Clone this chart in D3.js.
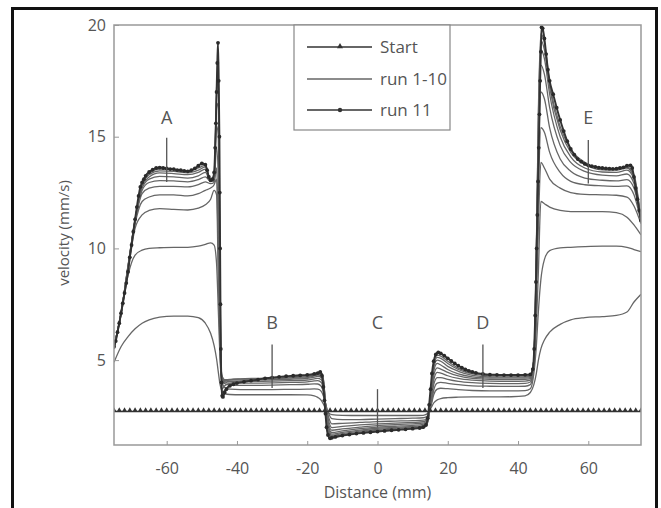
<!DOCTYPE html>
<html><head><meta charset="utf-8">
<script src="https://cdn.jsdelivr.net/npm/d3@7"></script>
<style>body{margin:0;background:#fff;} svg{display:block;font-family:'Open Sans',sans-serif;}</style>
</head><body><svg id="c" width="661" height="508"></svg>
<script>
// ---------- DATA ----------
const distance = [-75,-73,-71,-69,-67,-65,-62,-58,-54,-51,-49,-47.5,-46.5,-45.8,-45.3,-44.8,-44.3,-43.5,-42,-39,-35,-30,-25,-20,-18,-17,-16,-15.3,-14.7,-14,-13,-10,-5,0,5,10,13,14,14.7,15.3,16,17,18,20,23,27,32,38,42,43.5,44.5,45.2,45.8,46.5,47.5,49,52,55,59,64,68,71,73,75];
const run1 = [4.9,5.6,6.05,6.4,6.65,6.8,6.92,6.97,6.97,6.9,6.65,6.2,5.65,5.05,4.45,3.9,3.62,3.5,3.46,3.45,3.45,3.45,3.45,3.44,3.4,3.33,3.2,3.0,2.8,2.65,2.56,2.53,2.52,2.52,2.52,2.52,2.53,2.58,2.7,2.88,3.08,3.22,3.28,3.32,3.34,3.35,3.35,3.36,3.4,3.55,3.9,4.4,5.0,5.5,5.9,6.25,6.6,6.8,6.9,6.95,7.0,7.15,7.6,7.95];
const run2 = [5.5,7.0,8.8,9.7,9.92,10.0,10.03,10.05,10.05,10.1,10.18,10.25,10.15,9.3,7.2,5.0,4.05,3.78,3.7,3.68,3.68,3.68,3.69,3.7,3.71,3.7,3.6,3.35,3.0,2.65,2.38,2.34,2.34,2.36,2.38,2.4,2.42,2.48,2.66,3.0,3.45,3.7,3.74,3.72,3.68,3.64,3.62,3.62,3.63,3.72,4.4,5.6,7.2,8.6,9.5,9.9,10.02,10.05,10.08,10.1,10.1,10.05,9.95,9.85];
const run3 = [5.55,7.05,9.0,10.9,11.5,11.7,11.78,11.75,11.72,11.8,11.95,12.2,12.6,12.4,8.5,5.3,4.2,3.95,3.88,3.87,3.87,3.88,3.9,3.92,3.94,3.93,3.82,3.5,3.0,2.5,2.15,2.17,2.21,2.25,2.27,2.29,2.31,2.38,2.6,3.05,3.65,3.97,4.0,3.96,3.9,3.85,3.83,3.82,3.83,3.9,4.6,6.5,9.0,12.1,12.0,11.85,11.7,11.65,11.65,11.65,11.6,11.4,11.05,10.6];
const run4 = [5.55,7.1,9.1,11.1,12.1,12.3,12.4,12.4,12.35,12.45,12.6,12.7,12.85,13.1,9.5,5.5,4.25,4.02,3.97,3.97,3.97,3.98,4.0,4.03,4.07,4.08,4.0,3.6,2.95,2.35,1.98,2.03,2.1,2.15,2.18,2.21,2.24,2.32,2.6,3.15,3.9,4.22,4.22,4.14,4.05,3.99,3.96,3.95,3.96,4.02,4.8,7.5,11.0,13.85,13.6,13.1,12.7,12.5,12.42,12.4,12.38,12.3,11.9,11.1];
const run5 = [5.6,7.1,9.1,11.2,12.45,12.7,12.78,12.78,12.75,12.85,12.98,12.9,12.95,13.6,11.0,6.0,4.3,4.08,4.04,4.04,4.05,4.06,4.08,4.11,4.16,4.18,4.12,3.7,2.9,2.2,1.86,1.92,2.0,2.07,2.11,2.15,2.18,2.27,2.6,3.25,4.1,4.45,4.42,4.3,4.18,4.1,4.06,4.05,4.06,4.1,4.9,8.2,12.5,15.4,15.2,14.3,13.4,13.0,12.85,12.8,12.78,12.8,12.4,11.2];
const run6 = [5.6,7.1,9.15,11.25,12.6,12.95,13.03,13.02,12.98,13.08,13.2,13.0,13.0,14.5,13.0,6.5,4.3,4.12,4.1,4.1,4.11,4.12,4.14,4.18,4.24,4.27,4.22,3.8,2.85,2.05,1.76,1.83,1.93,2.0,2.04,2.08,2.12,2.22,2.6,3.35,4.3,4.65,4.6,4.45,4.29,4.18,4.14,4.13,4.14,4.17,5.0,8.8,13.8,17.0,16.7,15.4,14.0,13.45,13.15,13.05,13.02,13.08,12.7,11.25];
const run7 = [5.6,7.1,9.2,11.25,12.7,13.1,13.22,13.2,13.15,13.25,13.4,13.0,13.05,15.5,15.0,7.0,4.1,4.12,4.14,4.15,4.16,4.17,4.19,4.22,4.29,4.33,4.3,3.9,2.8,1.95,1.69,1.76,1.87,1.95,1.99,2.03,2.07,2.18,2.6,3.45,4.5,4.85,4.78,4.58,4.38,4.25,4.2,4.19,4.2,4.22,5.0,9.2,14.8,18.2,17.8,16.3,14.6,13.85,13.45,13.28,13.25,13.33,12.9,11.25];
const run8 = [5.6,7.1,9.2,11.27,12.8,13.2,13.38,13.35,13.3,13.4,13.55,13.0,13.1,16.3,16.5,7.5,3.9,4.05,4.12,4.16,4.18,4.19,4.22,4.26,4.33,4.37,4.35,3.95,2.75,1.85,1.63,1.71,1.82,1.9,1.95,1.99,2.03,2.14,2.6,3.55,4.65,5.0,4.95,4.72,4.5,4.32,4.25,4.24,4.25,4.27,5.0,9.5,15.5,18.9,18.5,16.9,15.0,14.1,13.6,13.42,13.4,13.5,13.1,11.25];
const run9 = [5.6,7.1,9.2,11.28,12.85,13.3,13.47,13.45,13.38,13.5,13.65,13.05,13.2,16.8,17.8,8.0,3.7,3.85,3.95,4.05,4.15,4.2,4.25,4.3,4.36,4.4,4.4,4.0,2.7,1.78,1.58,1.66,1.78,1.86,1.91,1.96,2.0,2.1,2.65,3.65,4.75,5.12,5.08,4.85,4.58,4.38,4.3,4.28,4.29,4.31,5.0,9.7,15.9,19.3,18.9,17.2,15.3,14.3,13.75,13.52,13.5,13.6,13.2,11.25];
const run10 = [5.6,7.1,9.25,11.3,12.9,13.35,13.55,13.52,13.45,13.6,13.72,13.05,13.3,17.2,18.6,8.5,3.5,3.65,3.88,4.02,4.14,4.21,4.27,4.32,4.4,4.43,4.44,4.05,2.65,1.72,1.54,1.63,1.75,1.83,1.88,1.93,1.98,2.07,2.7,3.7,4.85,5.22,5.18,4.95,4.64,4.42,4.33,4.31,4.32,4.34,5.0,9.8,16.2,19.6,19.2,17.4,15.45,14.45,13.85,13.58,13.55,13.65,13.3,11.25];
const runs1to10 = [run1,run2,run3,run4,run5,run6,run7,run8,run9,run10];

const run11Dist = [-75,-74.5,-74,-73.5,-73,-72.5,-72,-71.5,-71,-70.5,-70,-69.5,-69,-68.5,-68,-67.5,-67,-66.5,-66,-65,-64,-63,-62,-61,-60,-59,-58,-57,-56,-55,-54,-53,-52,-51,-50,-49,-48.5,-48,-47.5,-47,-46.5,-46.2,-46,-45.8,-45.6,-45.4,-45.2,-45,-44.9,-44.8,-44.7,-44.6,-44.4,-44.2,-44,-43.5,-43,-42,-41,-40,-38,-36,-34,-32,-30,-28,-26,-24,-22,-20,-18,-17,-16.3,-15.8,-15.4,-15.1,-14.8,-14.5,-14.1,-13.5,-13,-12,-10,-8,-6,-4,-2,0,2,4,6,8,10,12,13,13.8,14.3,14.7,15.1,15.5,16,16.6,17.3,18,19,20,21,22,23,24,25,26,27,28,30,32,34,36,38,40,42,43.5,44.2,44.6,44.9,45.1,45.3,45.5,45.7,45.9,46.1,46.3,46.5,46.7,47,47.5,48,48.5,49,50,51,52,53,54,55,56,57,58,59,60,61,62,63,64,65,66,67,68,69,70,71,72,72.5,73,73.5,74,74.5,75];
const run11Vel = [5.6,5.85,6.25,6.65,7.1,7.55,8.0,8.45,8.95,9.6,10.15,10.75,11.3,11.85,12.35,12.75,12.95,13.1,13.25,13.42,13.52,13.6,13.62,13.6,13.58,13.55,13.55,13.5,13.5,13.47,13.45,13.5,13.58,13.7,13.8,13.75,13.5,13.2,13.05,13.1,13.4,14.5,15.6,17.0,18.3,19.2,17.5,15.0,12.5,10.0,7.5,5.5,4.0,3.4,3.35,3.55,3.7,3.85,3.92,3.97,4.03,4.08,4.13,4.18,4.22,4.25,4.28,4.3,4.32,4.34,4.38,4.42,4.47,4.3,3.8,3.2,2.6,2.0,1.65,1.5,1.52,1.56,1.62,1.67,1.71,1.74,1.77,1.8,1.83,1.86,1.88,1.9,1.93,1.96,2.0,2.1,2.4,3.0,3.7,4.4,4.95,5.25,5.35,5.3,5.2,5.08,4.96,4.85,4.75,4.66,4.58,4.52,4.47,4.43,4.38,4.35,4.34,4.33,4.33,4.33,4.34,4.36,4.6,5.5,7.0,8.5,10.0,11.5,13.0,14.5,16.0,17.5,18.8,19.9,19.85,19.4,18.7,18.0,17.5,16.9,16.3,15.75,15.25,14.8,14.45,14.2,14.0,13.88,13.78,13.72,13.68,13.65,13.62,13.6,13.58,13.57,13.56,13.57,13.6,13.63,13.7,13.72,13.6,13.2,12.7,12.2,11.7,11.25];

const startDist = [-75,-73.5,-72,-70.5,-69,-67.5,-66,-64.5,-63,-61.5,-60,-58.5,-57,-55.5,-54,-52.5,-51,-49.5,-48,-46.5,-45,-43.5,-42,-40.5,-39,-37.5,-36,-34.5,-33,-31.5,-30,-28.5,-27,-25.5,-24,-22.5,-21,-19.5,-18,-16.5,-15,-13.5,-12,-10.5,-9,-7.5,-6,-4.5,-3,-1.5,0,1.5,3,4.5,6,7.5,9,10.5,12,13.5,15,16.5,18,19.5,21,22.5,24,25.5,27,28.5,30,31.5,33,34.5,36,37.5,39,40.5,42,43.5,45,46.5,48,49.5,51,52.5,54,55.5,57,58.5,60,61.5,63,64.5,66,67.5,69,70.5,72,73.5,75];
const startVel = [2.7,2.7,2.7,2.7,2.7,2.7,2.7,2.7,2.7,2.7,2.7,2.7,2.7,2.7,2.7,2.7,2.7,2.7,2.7,2.7,2.7,2.7,2.7,2.7,2.7,2.7,2.7,2.7,2.7,2.7,2.7,2.7,2.7,2.7,2.7,2.7,2.7,2.7,2.7,2.7,2.7,2.7,2.7,2.7,2.7,2.7,2.7,2.7,2.7,2.7,2.7,2.7,2.7,2.7,2.7,2.7,2.7,2.7,2.7,2.7,2.7,2.7,2.7,2.7,2.7,2.7,2.7,2.7,2.7,2.7,2.7,2.7,2.7,2.7,2.7,2.7,2.7,2.7,2.7,2.7,2.7,2.7,2.7,2.7,2.7,2.7,2.7,2.7,2.7,2.7,2.7,2.7,2.7,2.7,2.7,2.7,2.7,2.7,2.7,2.7,2.7];

const xTicks = [-60,-40,-20,0,20,40,60];
const yTicks = [5,10,15,20];
const regionLabels = ["A","B","C","D","E"];
const regionDist = [-60,-30,0,30,60];
const regionTop = [14.95,5.7,3.7,5.7,14.85];
const regionBottom = [12.97,3.75,1.98,3.75,12.9];
const regionLabelVel = [15.55,6.4,6.4,6.4,15.55];
const legendLabels = ["Start","run 1-10","run 11"];
const xTitle = "Distance (mm)";
const yTitle = "velocity (mm/s)";

// ---------- CHART ----------
const svg = d3.select("#c");
const L = 114, R = 641, T = 25, B = 445;
const x = d3.scaleLinear().domain([-75, 75]).range([L, R]);
const y = d3.scaleLinear().domain([1.2, 20]).range([B, T]);
const textCol = "#555";

svg.append("rect").attr("x",0).attr("y",0).attr("width",661).attr("height",508).attr("fill","#fff");
// outer frame
svg.append("rect").attr("x",12.5).attr("y",8.5).attr("width",644).attr("height",510)
  .attr("fill","none").attr("stroke","#111").attr("stroke-width",3);

svg.append("defs").append("clipPath").attr("id","clip")
  .append("rect").attr("x",L).attr("y",T-2).attr("width",R-L).attr("height",B-T+2);

const g = svg.append("g").attr("clip-path","url(#clip)");
const line = d3.line().curve(d3.curveMonotoneX);

runs1to10.forEach(r => {
  g.append("path")
    .attr("d", line(distance.map((d,i)=>[x(d), y(r[i])])))
    .attr("fill","none").attr("stroke","#666").attr("stroke-width",1.3);
});

// Start line
g.append("path")
  .attr("d", d3.line()(startDist.map((d,i)=>[x(d), y(startVel[i])])))
  .attr("fill","none").attr("stroke","#333").attr("stroke-width",1.7);
g.selectAll(".sm").data(startDist).enter().append("path")
  .attr("transform",(d,i)=>`translate(${x(d)},${y(startVel[i])-1.5})`)
  .attr("d", d3.symbol(d3.symbolTriangle, 10)()).attr("fill","#333");

// run 11
g.append("path")
  .attr("d", line(run11Dist.map((d,i)=>[x(d), y(run11Vel[i])])))
  .attr("fill","none").attr("stroke","#333").attr("stroke-width",1.9);
g.selectAll(".r11").data(run11Dist).enter().append("circle")
  .attr("cx", d=>x(d)).attr("cy",(d,i)=>y(run11Vel[i])).attr("r",1.9).attr("fill","#2a2a2a");

// region markers
regionLabels.forEach((lab,i)=>{
  svg.append("line").attr("x1",x(regionDist[i])).attr("x2",x(regionDist[i]))
    .attr("y1",y(regionTop[i])).attr("y2",y(regionBottom[i]))
    .attr("stroke","#555").attr("stroke-width",1.3);
  svg.append("text").attr("x",x(regionDist[i])).attr("y",y(regionLabelVel[i]))
    .attr("text-anchor","middle").attr("font-size",18).attr("fill",textCol).text(lab);
});

// plot box
svg.append("rect").attr("x",L).attr("y",T).attr("width",R-L).attr("height",B-T)
  .attr("fill","none").attr("stroke","#999").attr("stroke-width",1.5);

// axes
const xa = svg.append("g").attr("transform",`translate(0,${B})`)
  .call(d3.axisBottom(x).tickValues(xTicks).tickSize(-4).tickPadding(18).tickFormat(d3.format("d")));
const ya = svg.append("g").attr("transform",`translate(${L},0)`)
  .call(d3.axisLeft(y).tickValues(yTicks).tickSize(-5).tickPadding(8));
[xa,ya].forEach(a=>{
  a.select(".domain").remove();
  a.selectAll(".tick line").attr("stroke","#999");
  a.selectAll(".tick text").attr("fill",textCol).attr("font-size",16).attr("font-family","'Open Sans',sans-serif");
});
xa.selectAll(".tick text").text(d=> d<0 ? "-"+Math.abs(d) : d);

svg.append("text").attr("x",(L+R)/2).attr("y",498).attr("text-anchor","middle")
  .attr("font-size",16).attr("fill",textCol).text(xTitle);
svg.append("text").attr("transform",`translate(69,233) rotate(-90)`).attr("text-anchor","middle")
  .attr("font-size",15).attr("fill",textCol).text(yTitle);

// legend
const lg = svg.append("g");
lg.append("rect").attr("x",294).attr("y",T).attr("width",156).attr("height",105)
  .attr("fill","#fff").attr("stroke","#888").attr("stroke-width",1.2);
const rowsY = [47,79,110];
legendLabels.forEach((lab,i)=>{
  lg.append("line").attr("x1",307).attr("x2",372).attr("y1",rowsY[i]).attr("y2",rowsY[i])
    .attr("stroke", i===1 ? "#666" : "#333").attr("stroke-width", i===1?1.3:1.7);
  if(i===0) lg.append("path").attr("transform",`translate(340,${rowsY[i]-0.5})`)
    .attr("d", d3.symbol(d3.symbolTriangle, 16)()).attr("fill","#333");
  if(i===2) lg.append("circle").attr("cx",340).attr("cy",rowsY[i]).attr("r",2.2).attr("fill","#333");
  lg.append("text").attr("x",380).attr("y",rowsY[i]+6).attr("font-size",17).attr("fill",textCol).text(lab);
});
</script></body></html>
